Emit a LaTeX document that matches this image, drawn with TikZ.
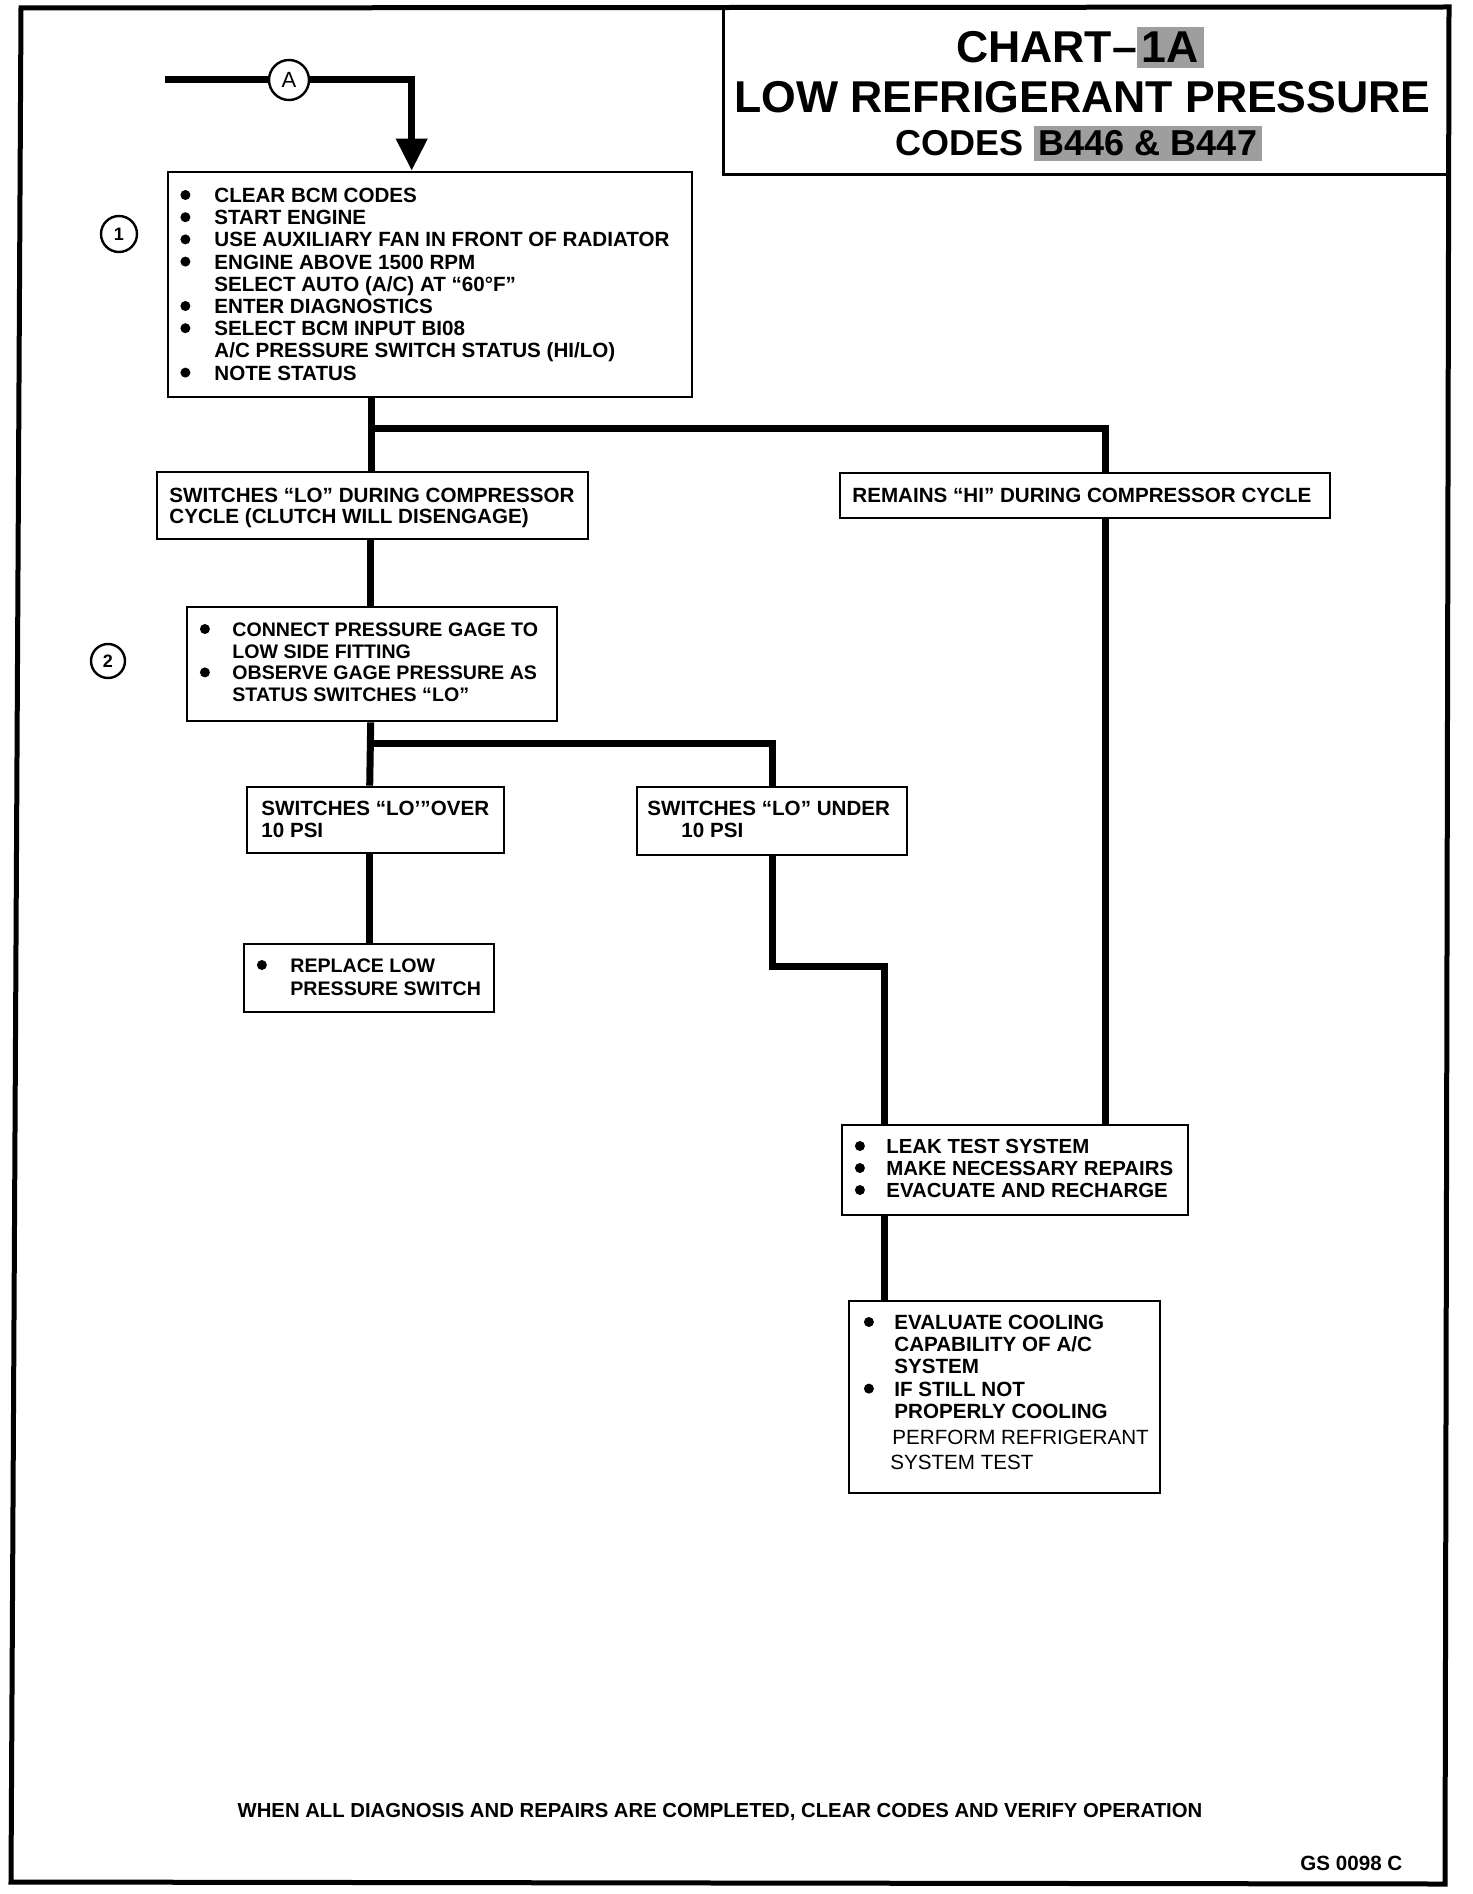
\documentclass[tikz,border=0pt]{standalone}
\usepackage{fontspec}
\setmainfont{Liberation Sans}
\usetikzlibrary{arrows.meta,calc}
\pgfdeclarelayer{bg}
\pgfsetlayers{bg,main}
\newcommand\bu[1][16.5pt]{\makebox[#1][l]{\tikz[baseline]\fill (2.5pt,3.75pt) circle (2.5pt);}}
\newcommand\lines[1]{\begin{tabular}[t]{@{}l@{}}#1\end{tabular}}
\newcommand\hl[1]{{\setlength{\fboxsep}{2.5pt}\colorbox{black!38}{#1}}}
\begin{document}
\begin{tikzpicture}[x=0.5pt,y=-0.5pt,
  conn/.style={line width=3.5pt},
  box/.style={draw,line width=1.3pt,fill=white,inner sep=0pt,rectangle},
  txt/.style={anchor=base west,inner sep=0pt,font=\bfseries\fontsize{10.3}{11.1}\selectfont},
  num/.style={circle,draw,line width=1.2pt,fill=white,inner sep=0pt,font=\bfseries\fontsize{9}{9}\selectfont},
]
\useasboundingbox (0,0) rectangle (1472,1894);

% title box
\node[draw,line width=1.5pt,inner sep=0pt,minimum width=363pt,minimum height=83.5pt] (title) at (1086,91.5) {};
\node[anchor=base,inner sep=0pt,font=\bfseries\fontsize{22.3}{26}\selectfont] (tt1) at (1080,63) {CHART–\hl{1A}};
\node[anchor=base,inner sep=0pt,font=\bfseries\fontsize{22.3}{26}\selectfont] (tt2) at (1082.5,113) {LOW REFRIGERANT PRESSURE};
\node[anchor=base,inner sep=0pt,font=\bfseries\fontsize{18}{22}\selectfont] (tt3) at (1079,156) {CODES \hl{B446 \& B447}};

% frame
\draw[line width=2.5pt] (21,8) -- (1449,7) -- (1445,1884) -- (11,1882) -- cycle;

% boxes
\node[box,minimum width=262pt,minimum height=112.5pt] (b1) at (430,284.5) {};
\node[box,minimum width=215.5pt,minimum height=33.5pt] (sw) at (372.5,505.5) {};
\node[box,minimum width=245pt,minimum height=22.5pt] (rh) at (1085,495.5) {};
\node[box,minimum width=185pt,minimum height=57pt] (b2) at (372,664) {};
\node[box,minimum width=128.5pt,minimum height=33pt] (ov) at (375.5,820) {};
\node[box,minimum width=135pt,minimum height=34pt] (un) at (772,821) {};
\node[box,minimum width=125pt,minimum height=34pt] (rp) at (369,978) {};
\node[box,minimum width=173pt,minimum height=45pt] (lk) at (1015,1170) {};
\node[box,minimum width=155.5pt,minimum height=96pt] (ev) at (1004.5,1397) {};

% circles
\node[num,minimum size=20pt,font=\fontsize{11}{11}\selectfont] (A) at (289,80) {A};
\node[num,minimum size=18pt] (c1) at (119,234) {1};
\node[num,minimum size=17pt] (c2) at (108,661) {2};

% texts
\node[txt] (t1) at (180,202.5) {\lines{%
\bu[17pt]CLEAR BCM CODES\\
\bu[17pt]START ENGINE\\
\bu[17pt]USE AUXILIARY FAN IN FRONT OF RADIATOR\\
\bu[17pt]ENGINE ABOVE 1500 RPM\\
\hspace*{17pt}SELECT AUTO (A/C) AT “60°F”\\
\bu[17pt]ENTER DIAGNOSTICS\\
\bu[17pt]SELECT BCM INPUT BI08\\
\hspace*{17pt}A/C PRESSURE SWITCH STATUS (HI/LO)\\
\bu[17pt]NOTE STATUS}};
\node[txt,font=\bfseries\fontsize{10.3}{10.8}\selectfont] (tsw) at (169,502) {\lines{%
SWITCHES “LO” DURING COMPRESSOR\\
CYCLE (CLUTCH WILL DISENGAGE)}};
\node[txt] (trh) at (852,502.5) {REMAINS “HI” DURING COMPRESSOR CYCLE};
\node[txt,font=\bfseries\fontsize{9.8}{10.85}\selectfont] (t2) at (199.5,636.5) {\lines{%
\bu[16.25pt]CONNECT PRESSURE GAGE TO\\
\hspace*{16.25pt}LOW SIDE FITTING\\
\bu[16.25pt]OBSERVE GAGE PRESSURE AS\\
\hspace*{16.25pt}STATUS SWITCHES “LO”}};
\node[txt,font=\bfseries\fontsize{10.3}{11}\selectfont] (tov) at (261,815.5) {\lines{%
SWITCHES “LO’”OVER\\
10 PSI}};
\node[txt,font=\bfseries\fontsize{10.3}{11}\selectfont] (tun) at (647,815.5) {\lines{%
SWITCHES “LO” UNDER\\
\hspace*{17pt}10 PSI}};
\node[txt,font=\bfseries\fontsize{9.8}{11.5}\selectfont] (trp) at (256.5,972.5) {\lines{%
\bu[16.75pt]REPLACE LOW\\
\hspace*{16.75pt}PRESSURE SWITCH}};
\node[txt,font=\bfseries\fontsize{10.2}{11}\selectfont] (tlk) at (854.5,1153.5) {\lines{%
\bu[15.75pt]LEAK TEST SYSTEM\\
\bu[15.75pt]MAKE NECESSARY REPAIRS\\
\bu[15.75pt]EVACUATE AND RECHARGE}};
\node[txt,font=\bfseries\fontsize{10.3}{11.1}\selectfont] (tev) at (863.5,1329.5) {\lines{%
\bu[15.25pt]EVALUATE COOLING\\
\hspace*{15.25pt}CAPABILITY OF A/C\\
\hspace*{15.25pt}SYSTEM\\
\bu[15.25pt]IF STILL NOT\\
\hspace*{15.25pt}PROPERLY COOLING\\[1.9pt]
\hspace*{14.25pt}{\mdseries PERFORM REFRIGERANT}\\[1.4pt]
\hspace*{13.25pt}{\mdseries SYSTEM TEST}}};

% footer
\node[anchor=base,inner sep=0pt,font=\bfseries\fontsize{10.15}{12}\selectfont] (foot) at (720,1817) {WHEN ALL DIAGNOSIS AND REPAIRS ARE COMPLETED, CLEAR CODES AND VERIFY OPERATION};
\node[anchor=base west,inner sep=0pt,font=\bfseries\fontsize{10.3}{12}\selectfont] (gs) at (1300,1870) {GS 0098 C};

% connectors
\coordinate (start) at (165,80);
\coordinate (j1) at (373,428);
\coordinate (j2) at (372,743);
\coordinate (k1) at (772,966);
\begin{pgfonlayer}{bg}
\fill[white] (0,0) rectangle (1472,1894);
\draw[conn] (start) -- (A);
\draw[conn,-{Triangle[width=15pt,length=16pt]}] (A) -| ($(b1.north west)+(245,0)$);
\draw[conn] ($(b1.south west)+(205,0)$) -- ($(sw.north west)+(216,0)$);
\draw[conn] (j1) -| ($(lk.north west)+(265,0)$);
\draw[conn] ($(sw.south west)+(215,0)$) -- ($(b2.north west)+(185,0)$);
\draw[conn] ($(b2.south west)+(185,0)$) -- ($(ov.north west)+(124,0)$);
\draw[conn] (j2) -| (un.north);
\draw[conn] ($(ov.south west)+(124,0)$) -- ($(rp.north west)+(127,0)$);
\draw[conn] (un.south) |- (k1) -| ($(lk.north west)+(44,0)$);
\draw[conn] ($(lk.south west)+(44,0)$) -- ($(ev.north west)+(37,0)$);
\end{pgfonlayer}
\end{tikzpicture}
\end{document}
